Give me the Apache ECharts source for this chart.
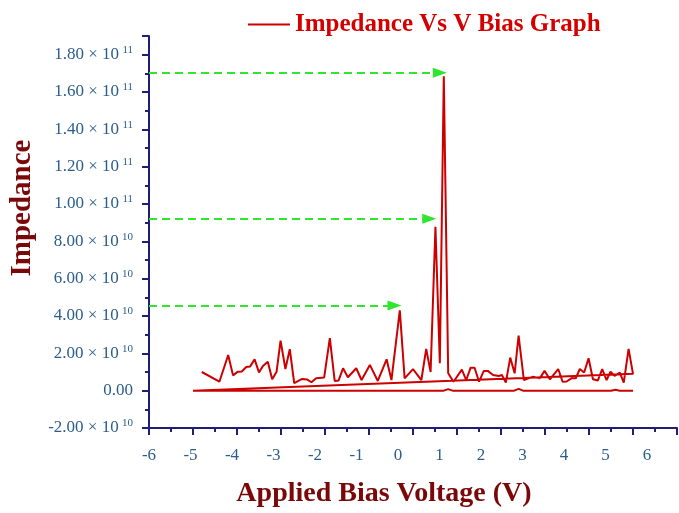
<!DOCTYPE html>
<html>
<head>
<meta charset="utf-8">
<script src="https://cdn.jsdelivr.net/npm/echarts@6/dist/echarts.min.js"></script>
<style>
html, body { margin: 0; padding: 0; background: #fff; }
#chart01 { width: 679px; height: 513px; }
</style>
</head>
<body>
<div id="chart01"></div>
<script>
// bias sweep (V) and impedance, impedance in units of 1e10 ohm
var sweepV = [-4.80, -4.40, -4.20, -4.09, -3.98, -3.89, -3.79, -3.70, -3.60, -3.50,
    -3.41, -3.30, -3.20, -3.10, -3.01, -2.90, -2.80, -2.70, -2.52, -2.41,
    -2.31, -2.20, -2.02, -1.89, -1.78, -1.69, -1.59, -1.48, -1.29, -1.17,
    -0.98, -0.80, -0.60, -0.49, -0.30, -0.19, 0.00, 0.19, 0.30, 0.40,
    0.51, 0.61, 0.70, 0.80, 0.92, 1.11, 1.21, 1.31, 1.40, 1.50,
    1.61, 1.70, 1.82, 1.95, 2.02, 2.11, 2.21, 2.31, 2.40, 2.52,
    2.73, 2.88, 2.99, 3.11, 3.30, 3.40, 3.49, 3.60, 3.70, 3.79,
    3.89, 3.99, 4.09, 4.20, 4.30, 4.40, 4.49, 4.58, 4.70, 4.79,
    4.90, 5.00];
var sweepZ = [1.00, 0.48, 1.91, 0.82, 1.02, 1.03, 1.27, 1.30, 1.68, 0.98,
    1.32, 1.55, 0.61, 1.02, 2.68, 1.16, 2.22, 0.40, 0.63, 0.60,
    0.45, 0.66, 0.70, 2.81, 0.52, 0.55, 1.20, 0.72, 1.20, 0.57,
    1.38, 0.52, 1.68, 0.57, 4.30, 0.66, 1.15, 0.57, 2.24, 1.00,
    8.78, 1.47, 16.84, 0.93, 0.48, 1.13, 0.57, 1.23, 1.23, 0.48,
    1.06, 1.06, 0.84, 0.79, 0.84, 0.43, 1.77, 0.93, 2.95, 0.57,
    0.75, 0.66, 1.06, 0.61, 1.16, 0.48, 0.49, 0.66, 0.66, 1.16,
    0.97, 1.74, 0.61, 0.54, 1.15, 0.57, 1.02, 0.79, 0.97, 0.43,
    2.24, 0.90];
var baseV = [-5.00, 0.70, 0.80, 0.90, 2.30, 2.40, 2.50, 4.50, 4.60, 4.70, 5.00];
var baseZ = [0.00, 0.00, 0.08, 0.00, 0.00, 0.10, 0.00, 0.00, 0.05, 0.00, 0.00];

// green guide arrows: level (1e10 ohm) and where the arrow ends (V)
var arrowLevels = [17.03, 9.21, 4.56];
var arrowEnds = [0.61, 0.37, -0.42];

var xTicks = [-6, -5, -4, -3, -2, -1, 0, 1, 2, 3, 4, 5, 6];

var serif = "'Liberation Serif', 'Times New Roman', serif";
var tickBlue = '#2a5d8c';
var axisNavy = '#1f1f7a';
var nameRed = '#7a0808';

var points = [];
for (var i = 0; i < sweepV.length; i++) points.push([sweepV[i], sweepZ[i] * 1e10]);
for (var j = 0; j < baseV.length; j++) points.push([baseV[j], baseZ[j] * 1e10]);

var arrows = arrowLevels.map(function (lv, k) {
    return [{ coord: [xTicks[0], lv * 1e10] }, { coord: [arrowEnds[k], lv * 1e10] }];
});

function yLabel(v) {
    if (v > 1.85e11) return '';
    if (v === 0) return '{a|0.00}';
    var e = Math.floor(Math.log10(Math.abs(v)) + 1e-9);
    var m = (v / Math.pow(10, e)).toFixed(2);
    return '{a|' + m + ' × 10} {b|' + e + '}';
}

var myChart = echarts.init(document.getElementById('chart01'));
var option = {
    animation: false,
    legend: {
        data: ['Impedance Vs V Bias Graph'],
        left: 243,
        top: 7,
        icon: 'rect',
        itemWidth: 42,
        itemHeight: 2,
        itemGap: 6,
        textStyle: { fontFamily: serif, fontSize: 25, fontWeight: 'bold', color: '#d40000' }
    },
    grid: [
        { left: 149, right: 2, top: 36, bottom: 85, outerBoundsMode: 'none' },
        { left: 149, right: 32, top: 36, bottom: 85, outerBoundsMode: 'none' }
    ],
    xAxis: [
        {
            type: 'value', gridIndex: 0, min: -6, max: 6, interval: 1,
            axisLine: { onZero: false, lineStyle: { color: axisNavy, width: 2 } },
            axisTick: { show: true, length: 7, lineStyle: { color: axisNavy, width: 2 } },
            minorTick: { show: true, splitNumber: 2, length: 4, lineStyle: { color: axisNavy, width: 2 } },
            axisLabel: { show: false },
            splitLine: { show: false }
        },
        {
            // tick labels of the picture sit on a slightly narrower scale
            type: 'value', gridIndex: 1, min: -6, max: 6, interval: 1,
            axisLine: { show: false },
            axisTick: { show: false },
            splitLine: { show: false },
            axisLabel: { margin: 19, fontFamily: serif, fontSize: 17, color: tickBlue },
            name: 'Applied Bias Voltage (V)',
            nameLocation: 'middle',
            nameGap: 52,
            nameTextStyle: { fontFamily: serif, fontSize: 28, fontWeight: 'bold', color: nameRed, padding: [0, 28, 0, 0] }
        }
    ],
    yAxis: [
        {
            type: 'value', gridIndex: 0, min: -2e10, max: 1.9e11, interval: 2e10,
            axisLine: { show: true, onZero: false, lineStyle: { color: axisNavy, width: 2 } },
            axisTick: { show: true, length: 7, lineStyle: { color: axisNavy, width: 2 } },
            minorTick: { show: true, splitNumber: 2, length: 4, lineStyle: { color: axisNavy, width: 2 } },
            splitLine: { show: false },
            axisLabel: {
                margin: 16,
                formatter: yLabel,
                rich: {
                    a: { fontFamily: serif, fontSize: 17, color: tickBlue, lineHeight: 20 },
                    b: { fontFamily: serif, fontSize: 11, color: tickBlue, lineHeight: 12, verticalAlign: 'top' }
                }
            },
            name: 'Impedance',
            nameLocation: 'middle',
            nameGap: 112,
            nameTextStyle: { fontFamily: serif, fontSize: 29, fontWeight: 'bold', color: nameRed, padding: [0, 0, 0, 48] }
        },
        { type: 'value', gridIndex: 1, show: false, min: -2e10, max: 1.9e11 }
    ],
    series: [
        {
            name: 'Impedance Vs V Bias Graph',
            type: 'line',
            xAxisIndex: 0,
            yAxisIndex: 0,
            symbol: 'none',
            lineStyle: { color: '#cc0000', width: 2 },
            itemStyle: { color: '#cc0000' },
            data: points,
            markLine: {
                silent: true,
                symbol: ['none', 'triangle'],
                symbolSize: [10, 14],
                label: { show: false },
                lineStyle: { color: '#2ee62e', type: [8, 5], width: 2 },
                data: arrows
            }
        }
    ]
};
if (option && typeof option === "object") {
    myChart.setOption(option, true);
}
</script>
</body>
</html>
